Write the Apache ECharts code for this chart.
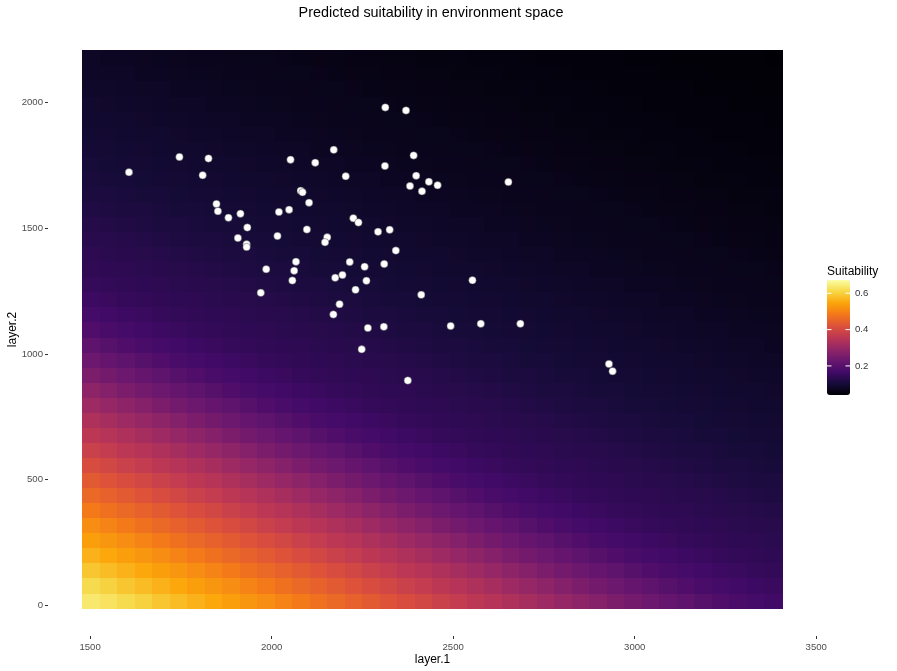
<!DOCTYPE html>
<html><head><meta charset="utf-8">
<script src="https://cdn.jsdelivr.net/npm/echarts@6/dist/echarts.min.js"></script>
<style>html,body{margin:0;padding:0;background:#fff}#c{width:897px;height:671px}</style>
</head><body><div id="c"></div>
<script>
// ---- data ----
const layer1Centers = [1504.1,1552.2,1600.4,1648.5,1696.7,1744.8,1793.0,1841.1,1889.3,1937.4,1985.6,2033.7,2081.9,2130.0,2178.2,2226.4,2274.5,2322.7,2370.8,2419.0,2467.1,2515.3,2563.4,2611.6,2659.7,2707.9,2756.0,2804.2,2852.3,2900.5,2948.6,2996.8,3044.9,3093.1,3141.2,3189.4,3237.5,3285.7,3333.8,3382.0];
const layer2Centers = [18.0,77.9,137.9,197.8,257.8,317.7,377.7,437.6,497.6,557.5,617.5,677.4,737.4,797.3,857.3,917.2,977.2,1037.1,1097.1,1157.0,1217.0,1276.9,1336.9,1396.8,1456.8,1516.7,1576.7,1636.6,1696.6,1756.5,1816.5,1876.4,1936.4,1996.3,2056.3,2116.2,2176.2];
// suitability, rows bottom (layer.2 low) -> top, columns left -> right
const suitabilityGrid = [
[.636,.627,.616,.603,.588,.575,.562,.550,.537,.525,.512,.498,.484,.471,.458,.446,.435,.422,.408,.395,.382,.369,.356,.345,.334,.322,.309,.297,.284,.270,.256,.244,.233,.222,.211,.199,.188,.178,.171,.164],
[.616,.603,.588,.575,.562,.550,.537,.525,.512,.498,.484,.471,.458,.446,.435,.422,.408,.395,.382,.369,.356,.345,.334,.322,.309,.297,.284,.270,.256,.244,.233,.222,.211,.199,.188,.178,.171,.164,.158,.153],
[.588,.575,.562,.550,.537,.525,.512,.498,.484,.471,.458,.446,.435,.422,.408,.395,.382,.369,.356,.345,.334,.322,.309,.297,.284,.270,.256,.244,.233,.222,.211,.199,.188,.178,.171,.164,.158,.153,.148,.145],
[.562,.550,.537,.525,.512,.498,.484,.471,.458,.446,.435,.422,.408,.395,.382,.369,.356,.345,.334,.322,.309,.297,.284,.270,.256,.244,.233,.222,.211,.199,.188,.178,.171,.164,.158,.153,.148,.145,.142,.139],
[.537,.525,.512,.498,.484,.471,.458,.446,.435,.422,.408,.395,.382,.369,.356,.345,.334,.322,.309,.297,.284,.270,.256,.244,.233,.222,.211,.199,.188,.178,.171,.164,.158,.153,.148,.145,.142,.139,.136,.133],
[.512,.498,.484,.471,.458,.446,.435,.422,.408,.395,.382,.369,.356,.345,.334,.322,.309,.297,.284,.270,.256,.244,.233,.222,.211,.199,.188,.178,.171,.164,.158,.153,.148,.145,.142,.139,.136,.133,.130,.128],
[.484,.471,.458,.446,.435,.422,.408,.395,.382,.369,.356,.345,.334,.322,.309,.297,.284,.270,.256,.244,.233,.222,.211,.199,.188,.178,.171,.164,.158,.153,.148,.145,.142,.139,.136,.133,.130,.128,.125,.121],
[.458,.446,.435,.422,.408,.395,.382,.369,.356,.345,.334,.322,.309,.297,.284,.270,.256,.244,.233,.222,.211,.199,.188,.178,.171,.164,.158,.153,.148,.145,.142,.139,.136,.133,.130,.128,.125,.121,.118,.115],
[.435,.422,.408,.395,.382,.369,.356,.345,.334,.322,.309,.297,.284,.270,.256,.244,.233,.222,.211,.199,.188,.178,.171,.164,.158,.153,.148,.145,.142,.139,.136,.133,.130,.128,.125,.121,.118,.115,.112,.110],
[.408,.395,.382,.369,.356,.345,.334,.322,.309,.297,.284,.270,.256,.244,.233,.222,.211,.199,.188,.178,.171,.164,.158,.153,.148,.145,.142,.139,.136,.133,.130,.128,.125,.121,.118,.115,.112,.110,.107,.105],
[.382,.369,.356,.345,.334,.322,.309,.297,.284,.270,.256,.244,.233,.222,.211,.199,.188,.178,.171,.164,.158,.153,.148,.145,.142,.139,.136,.133,.130,.128,.125,.121,.118,.115,.112,.110,.107,.105,.103,.101],
[.356,.345,.334,.322,.309,.297,.284,.270,.256,.244,.233,.222,.211,.199,.188,.178,.171,.164,.158,.153,.148,.145,.142,.139,.136,.133,.130,.128,.125,.121,.118,.115,.112,.110,.107,.105,.103,.101,.099,.097],
[.334,.322,.309,.297,.284,.270,.256,.244,.233,.222,.211,.199,.188,.178,.171,.164,.158,.153,.148,.145,.142,.139,.136,.133,.130,.128,.125,.121,.118,.115,.112,.110,.107,.105,.103,.101,.099,.097,.096,.094],
[.309,.297,.284,.270,.256,.244,.233,.222,.211,.199,.188,.178,.171,.164,.158,.153,.148,.145,.142,.139,.136,.133,.130,.128,.125,.121,.118,.115,.112,.110,.107,.105,.103,.101,.099,.097,.096,.094,.093,.091],
[.284,.270,.256,.244,.233,.222,.211,.199,.188,.178,.171,.164,.158,.153,.148,.145,.142,.139,.136,.133,.130,.128,.125,.121,.118,.115,.112,.110,.107,.105,.103,.101,.099,.097,.096,.094,.093,.091,.090,.088],
[.256,.244,.233,.222,.211,.199,.188,.178,.171,.164,.158,.153,.148,.145,.142,.139,.136,.133,.130,.128,.125,.121,.118,.115,.112,.110,.107,.105,.103,.101,.099,.097,.096,.094,.093,.091,.090,.088,.086,.084],
[.233,.222,.211,.199,.188,.178,.171,.164,.158,.153,.148,.145,.142,.139,.136,.133,.130,.128,.125,.121,.118,.115,.112,.110,.107,.105,.103,.101,.099,.097,.096,.094,.093,.091,.090,.088,.086,.084,.082,.080],
[.211,.199,.188,.178,.171,.164,.158,.153,.148,.145,.142,.139,.136,.133,.130,.128,.125,.121,.118,.115,.112,.110,.107,.105,.103,.101,.099,.097,.096,.094,.093,.091,.090,.088,.086,.084,.082,.080,.079,.077],
[.188,.178,.171,.164,.158,.153,.148,.145,.142,.139,.136,.133,.130,.128,.125,.121,.118,.115,.112,.110,.107,.105,.103,.101,.099,.097,.096,.094,.093,.091,.090,.088,.086,.084,.082,.080,.079,.077,.076,.074],
[.171,.164,.158,.153,.148,.145,.142,.139,.136,.133,.130,.128,.125,.121,.118,.115,.112,.110,.107,.105,.103,.101,.099,.097,.096,.094,.093,.091,.090,.088,.086,.084,.082,.080,.079,.077,.076,.074,.073,.071],
[.158,.153,.148,.145,.142,.139,.136,.133,.130,.128,.125,.121,.118,.115,.112,.110,.107,.105,.103,.101,.099,.097,.096,.094,.093,.091,.090,.088,.086,.084,.082,.080,.079,.077,.076,.074,.073,.071,.070,.069],
[.148,.145,.142,.139,.136,.133,.130,.128,.125,.121,.118,.115,.112,.110,.107,.105,.103,.101,.099,.097,.096,.094,.093,.091,.090,.088,.086,.084,.082,.080,.079,.077,.076,.074,.073,.071,.070,.069,.068,.067],
[.142,.139,.136,.133,.130,.128,.125,.121,.118,.115,.112,.110,.107,.105,.103,.101,.099,.097,.096,.094,.093,.091,.090,.088,.086,.084,.082,.080,.079,.077,.076,.074,.073,.071,.070,.069,.068,.067,.066,.065],
[.136,.133,.130,.128,.125,.121,.118,.115,.112,.110,.107,.105,.103,.101,.099,.097,.096,.094,.093,.091,.090,.088,.086,.084,.082,.080,.079,.077,.076,.074,.073,.071,.070,.069,.068,.067,.066,.065,.064,.062],
[.130,.128,.125,.121,.118,.115,.112,.110,.107,.105,.103,.101,.099,.097,.096,.094,.093,.091,.090,.088,.086,.084,.082,.080,.079,.077,.076,.074,.073,.071,.070,.069,.068,.067,.066,.065,.064,.062,.061,.060],
[.125,.121,.118,.115,.112,.110,.107,.105,.103,.101,.099,.097,.096,.094,.093,.091,.090,.088,.086,.084,.082,.080,.079,.077,.076,.074,.073,.071,.070,.069,.068,.067,.066,.065,.064,.062,.061,.060,.059,.058],
[.118,.115,.112,.110,.107,.105,.103,.101,.099,.097,.096,.094,.093,.091,.090,.088,.086,.084,.082,.080,.079,.077,.076,.074,.073,.071,.070,.069,.068,.067,.066,.065,.064,.062,.061,.060,.059,.058,.057,.056],
[.112,.110,.107,.105,.103,.101,.099,.097,.096,.094,.093,.091,.090,.088,.086,.084,.082,.080,.079,.077,.076,.074,.073,.071,.070,.069,.068,.067,.066,.065,.064,.062,.061,.060,.059,.058,.057,.056,.056,.055],
[.107,.105,.103,.101,.099,.097,.096,.094,.093,.091,.090,.088,.086,.084,.082,.080,.079,.077,.076,.074,.073,.071,.070,.069,.068,.067,.066,.065,.064,.062,.061,.060,.059,.058,.057,.056,.056,.055,.054,.053],
[.103,.101,.099,.097,.096,.094,.093,.091,.090,.088,.086,.084,.082,.080,.079,.077,.076,.074,.073,.071,.070,.069,.068,.067,.066,.065,.064,.062,.061,.060,.059,.058,.057,.056,.056,.055,.054,.053,.052,.051],
[.099,.097,.096,.094,.093,.091,.090,.088,.086,.084,.082,.080,.079,.077,.076,.074,.073,.071,.070,.069,.068,.067,.066,.065,.064,.062,.061,.060,.059,.058,.057,.056,.056,.055,.054,.053,.052,.051,.050,.050],
[.096,.094,.093,.091,.090,.088,.086,.084,.082,.080,.079,.077,.076,.074,.073,.071,.070,.069,.068,.067,.066,.065,.064,.062,.061,.060,.059,.058,.057,.056,.056,.055,.054,.053,.052,.051,.050,.050,.049,.049],
[.093,.091,.090,.088,.086,.084,.082,.080,.079,.077,.076,.074,.073,.071,.070,.069,.068,.067,.066,.065,.064,.062,.061,.060,.059,.058,.057,.056,.056,.055,.054,.053,.052,.051,.050,.050,.049,.049,.048,.047],
[.090,.088,.086,.084,.082,.080,.079,.077,.076,.074,.073,.071,.070,.069,.068,.067,.066,.065,.064,.062,.061,.060,.059,.058,.057,.056,.056,.055,.054,.053,.052,.051,.050,.050,.049,.049,.048,.047,.047,.046],
[.086,.084,.082,.080,.079,.077,.076,.074,.073,.071,.070,.069,.068,.067,.066,.065,.064,.062,.061,.060,.059,.058,.057,.056,.056,.055,.054,.053,.052,.051,.050,.050,.049,.049,.048,.047,.047,.046,.045,.045],
[.082,.080,.079,.077,.076,.074,.073,.071,.070,.069,.068,.067,.066,.065,.064,.062,.061,.060,.059,.058,.057,.056,.056,.055,.054,.053,.052,.051,.050,.050,.049,.049,.048,.047,.047,.046,.045,.045,.044,.044],
[.079,.077,.076,.074,.073,.071,.070,.069,.068,.067,.066,.065,.064,.062,.061,.060,.059,.058,.057,.056,.056,.055,.054,.053,.052,.051,.050,.050,.049,.049,.048,.047,.047,.046,.045,.045,.044,.044,.043,.042]
];
const pointsLayer1 = [1607,1746,1826,1810,2052,2080,2085,2103,1848,1852,1881,1914,1933,1907,1931,1931,2020,2048,2016,2097,2067,1985,2062,2057,1970,2313,2370,2171,2120,2391,2312,2204,2398,2381,2433,2457,2414,2652,2225,2239,2153,2147,2293,2325,2342,2215,2256,2310,2195,2175,2261,2231,2412,2553,2187,2170,2265,2309,2248,2375,2493,2576,2685,2929,2939];
const pointsLayer2 = [1723,1784,1778,1711,1773,1649,1643,1602,1597,1568,1542,1558,1503,1461,1436,1425,1565,1574,1469,1495,1367,1337,1331,1292,1243,1981,1969,1812,1761,1790,1748,1707,1709,1668,1685,1671,1647,1684,1540,1523,1464,1444,1486,1494,1411,1366,1347,1358,1314,1303,1291,1255,1235,1293,1198,1157,1103,1108,1018,894,1111,1120,1120,960,931];
const xTickValues = [1500,2000,2500,3000,3500];
const yTickValues = [0,500,1000,1500,2000];
const legendTickValues = [0.2,0.4,0.6];
const suitMin = 0.040, suitMax = 0.673;

// ---- styles / layout ----
const inferno = ['#000004','#160B39','#420A68','#6A176E','#932667','#BC3754','#DD513A','#F37819','#FCA50A','#F6D746','#FCFFA4'];
const CELL_W = 48.15, CELL_H = 59.95;
const FONT = '"Liberation Sans", Arial, Helvetica, sans-serif';
const LEG = {left: 827, top: 280, w: 23, h: 115};

const cells = [];
suitabilityGrid.forEach((row, j) => row.forEach((v, i) => cells.push([layer1Centers[i], layer2Centers[j], v])));
const points = pointsLayer1.map((x, k) => [x, pointsLayer2[k]]);

function renderCell(params, api) {
  const x = api.value(0), y = api.value(1);
  const p0 = api.coord([x - CELL_W / 2, y + CELL_H / 2]);
  const p1 = api.coord([x + CELL_W / 2, y - CELL_H / 2]);
  const x0 = Math.floor(p0[0]), y0 = Math.floor(p0[1]);
  const x1 = Math.ceil(p1[0]), y1 = Math.ceil(p1[1]);
  return {type: 'rect', shape: {x: x0, y: y0, width: x1 - x0, height: y1 - y0},
          style: {fill: api.visual('color'), stroke: null}};
}

const legendGraphics = [{type: 'text', x: LEG.left, y: 272, z: 100,
  style: {text: 'Suitability', fontSize: 12, fontFamily: FONT, fill: '#000', align: 'left', verticalAlign: 'middle', textAlign: 'left', textVerticalAlign: 'middle'}}];
legendTickValues.forEach(v => {
  const yy = LEG.top + LEG.h * (suitMax - v) / (suitMax - suitMin);
  legendGraphics.push({type: 'line', z: 100, shape: {x1: LEG.left, y1: yy, x2: LEG.left + 4.5, y2: yy}, style: {stroke: '#fff', lineWidth: 1}});
  legendGraphics.push({type: 'line', z: 100, shape: {x1: LEG.left + LEG.w - 4.5, y1: yy, x2: LEG.left + LEG.w, y2: yy}, style: {stroke: '#fff', lineWidth: 1}});
  legendGraphics.push({type: 'text', z: 100, x: LEG.left + LEG.w + 5, y: yy,
    style: {text: v.toFixed(1), fontSize: 9.6, fontFamily: FONT, fill: '#333', align: 'left', verticalAlign: 'middle', textAlign: 'left', textVerticalAlign: 'middle'}});
});

const plainNum = v => String(v);

const chart = echarts.init(document.getElementById('c'), null, {renderer: 'canvas'});
chart.setOption({
  backgroundColor: '#ffffff',
  animation: false,
  title: {text: 'Predicted suitability in environment space', left: 431, top: 6, textAlign: 'center', padding: 0,
    textStyle: {fontSize: 14.4, fontWeight: 'normal', color: '#000', fontFamily: FONT}},
  grid: {left: 48, right: 80, top: 23, bottom: 35, containLabel: false, outerBoundsMode: 'none'},
  xAxis: {type: 'value', min: 1384, max: 3502, name: 'layer.1', nameLocation: 'middle', nameGap: 18, nameMoveOverlap: false,
    nameTextStyle: {fontSize: 12, color: '#000', fontFamily: FONT},
    axisLine: {show: false, onZero: false}, splitLine: {show: false},
    axisTick: {show: true, customValues: xTickValues, length: 3, lineStyle: {color: '#333', width: 1}},
    axisLabel: {customValues: xTickValues, formatter: plainNum, fontSize: 9.6, color: '#4D4D4D', margin: 6, fontFamily: FONT}},
  yAxis: {type: 'value', min: -123, max: 2317, name: 'layer.2', nameLocation: 'middle', nameGap: 29, nameMoveOverlap: false,
    nameTextStyle: {fontSize: 12, color: '#000', fontFamily: FONT},
    axisLine: {show: false, onZero: false}, splitLine: {show: false},
    axisTick: {show: true, customValues: yTickValues, length: 3, lineStyle: {color: '#333', width: 1}},
    axisLabel: {customValues: yTickValues, formatter: plainNum, fontSize: 9.6, color: '#4D4D4D', margin: 5, fontFamily: FONT}},
  visualMap: {type: 'continuous', min: suitMin, max: suitMax, dimension: 2, seriesIndex: 0, calculable: false,
    left: LEG.left, top: LEG.top, itemWidth: LEG.w, itemHeight: LEG.h, padding: 0, text: null, showLabel: false,
    inRange: {color: inferno}},
  graphic: legendGraphics,
  series: [
    {type: 'custom', renderItem: renderCell, data: cells, encode: {x: 0, y: 1}, silent: true, z: 1},
    {type: 'scatter', data: points, symbol: 'circle', symbolSize: 7.5, silent: true, z: 5,
      itemStyle: {color: '#ffffff', borderColor: 'rgba(70,70,70,0.8)', borderWidth: 0.6, opacity: 1}}
  ]
});
</script></body></html>
